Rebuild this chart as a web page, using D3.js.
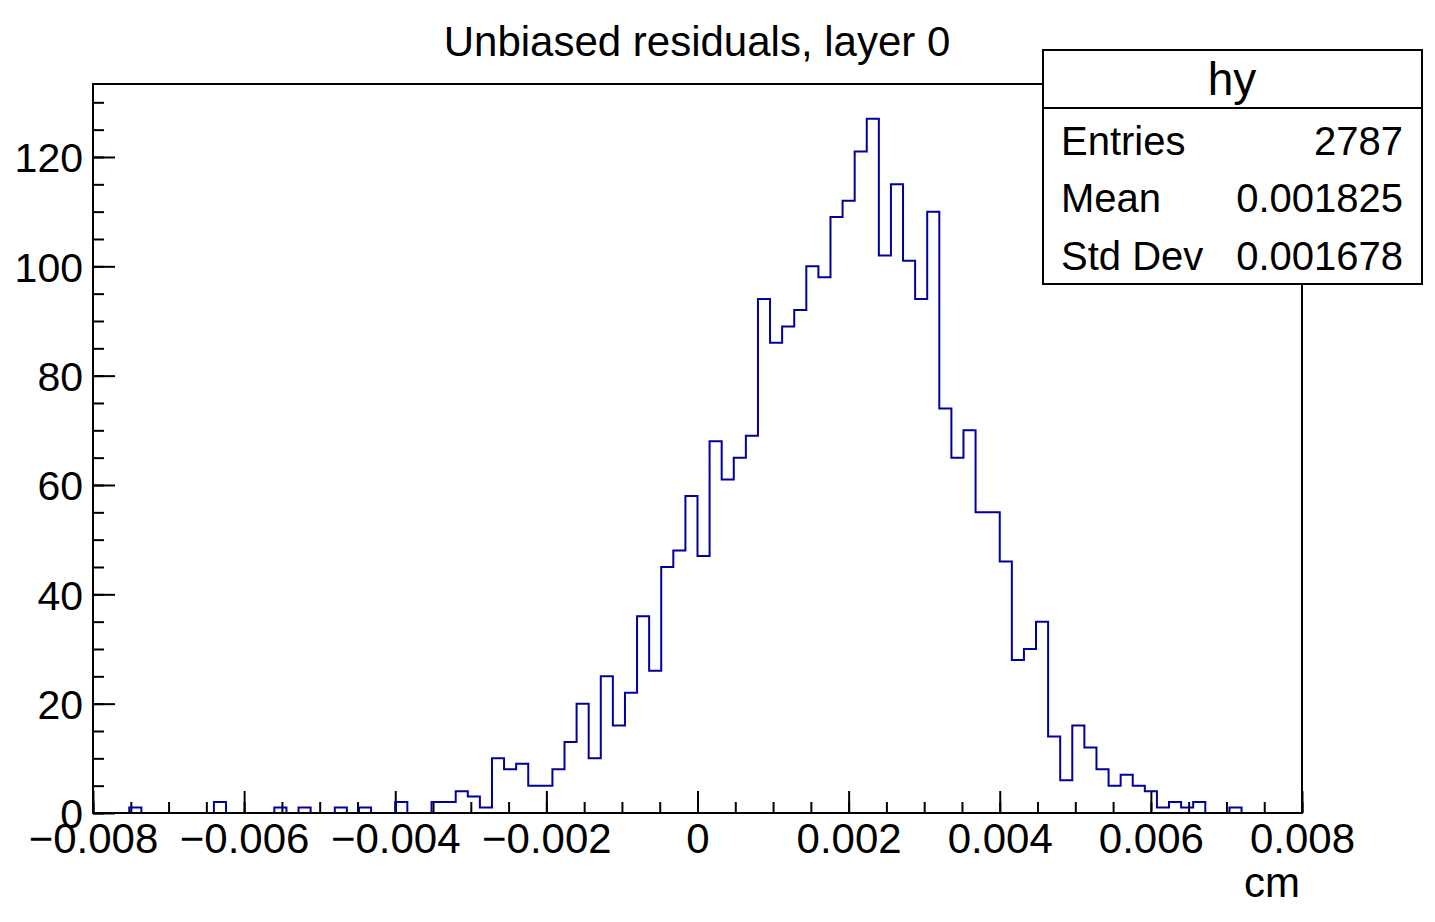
<!DOCTYPE html>
<meta charset="utf-8">
<script src="https://d3js.org/d3.v7.min.js"></script>
<style>
  body { margin: 0; background: #fff; }
  text { font-family: "Liberation Sans", Arial, Helvetica, sans-serif; fill: #000; }
</style>
<div id="my_dataviz"></div>
<script>
// histogram definition (100 bins from -0.008 to 0.008 cm)
var nBins = 100, xMin = -0.008, xMax = 0.008;
var counts = [
  0, 0, 0, 1, 0, 0, 0, 0, 0, 0,
  2, 0, 0, 0, 0, 1, 0, 1, 0, 0,
  1, 0, 1, 0, 0, 2, 0, 0, 2, 2,
  4, 3, 1, 10, 8, 9, 5, 5, 8, 13,
  20, 10, 25, 16, 22, 36, 26, 45, 48, 58,
  47, 68, 61, 65, 69, 94, 86, 89, 92, 100,
  98, 109, 112, 121, 127, 102, 115, 101, 94, 110,
  74, 65, 70, 55, 55, 46, 28, 30, 35, 14,
  6, 16, 12, 8, 5, 7, 5, 4, 1, 2,
  1, 2, 0, 0, 1, 0, 0, 0, 0, 0
];
var xMajorTicks = [-0.008, -0.006, -0.004, -0.002, 0, 0.002, 0.004, 0.006, 0.008];
var yMajorTicks = [0, 20, 40, 60, 80, 100, 120];
var statLabels = ["Entries", "Mean", "Std Dev"];
var statValues = ["2787", "0.001825", "0.001678"];

var W = 1435, H = 922;
var margin = {top: 84, right: 133, bottom: 109, left: 93},
    width = W - margin.left - margin.right,
    height = H - margin.top - margin.bottom;

var svg = d3.select("#my_dataviz").append("svg")
    .attr("width", W).attr("height", H);
var g = svg.append("g")
    .attr("transform", "translate(" + margin.left + "," + margin.top + ")");

var x = d3.scaleLinear().domain([xMin, xMax]).range([0, width]);
var y = d3.scaleLinear().domain([0, 127 * 1.05]).range([height, 0]);

// minor ticks
var xMinor = d3.range(-16, 17).map(function(i) { return i * 0.0005; });
var yMinor = d3.range(0, 27).map(function(i) { return i * 5; });

var fmtX = function(d) { return Math.abs(d) < 1e-12 ? "0" : d3.format(".3f")(d); };

g.append("g")
    .attr("transform", "translate(0," + height + ")")
    .call(d3.axisBottom(x).tickValues(xMinor).tickSize(-11).tickFormat(""))
    .call(function(a) { a.select(".domain").remove(); });
var xAxis = g.append("g")
    .attr("transform", "translate(0," + height + ")")
    .call(d3.axisBottom(x).tickValues(xMajorTicks).tickSize(-22).tickPadding(10).tickFormat(fmtX));
xAxis.select(".domain").remove();
xAxis.selectAll("text").style("font-size", "42px");

g.append("g")
    .call(d3.axisLeft(y).tickValues(yMinor).tickSize(-11).tickFormat(""))
    .call(function(a) { a.select(".domain").remove(); });
var yAxis = g.append("g")
    .call(d3.axisLeft(y).tickValues(yMajorTicks).tickSize(-22).tickPadding(10));
yAxis.select(".domain").remove();
yAxis.selectAll("text").style("font-size", "41px").attr("dy", "0.36em");

svg.selectAll(".tick line").attr("stroke", "#000").attr("stroke-width", 2);

// histogram outline
var pts = [[x(xMin), y(0)]];
counts.forEach(function(c, i) {
  var x0 = x(xMin + (xMax - xMin) * i / nBins),
      x1 = x(xMin + (xMax - xMin) * (i + 1) / nBins);
  pts.push([x0, y(c)], [x1, y(c)]);
});
pts.push([x(xMax), y(0)]);
g.append("path")
    .attr("d", d3.line()(pts))
    .attr("fill", "none")
    .attr("stroke", "#00009c")
    .attr("stroke-width", 2);

// frame
g.append("rect")
    .attr("x", 0).attr("y", 0)
    .attr("width", width).attr("height", height)
    .attr("fill", "none").attr("stroke", "#000").attr("stroke-width", 2);

// title
svg.append("text")
    .attr("x", 697).attr("y", 56)
    .attr("text-anchor", "middle")
    .style("font-size", "42px")
    .text("Unbiased residuals, layer 0");

// axis title
svg.append("text")
    .attr("x", 1300).attr("y", 897)
    .attr("text-anchor", "end")
    .style("font-size", "42px")
    .text("cm");

// stats box
var box = svg.append("g");
box.append("rect")
    .attr("x", 1043).attr("y", 50).attr("width", 379).attr("height", 234)
    .attr("fill", "#fff").attr("stroke", "#000").attr("stroke-width", 2);
box.append("line")
    .attr("x1", 1043).attr("x2", 1422).attr("y1", 108).attr("y2", 108)
    .attr("stroke", "#000").attr("stroke-width", 2);
box.append("text")
    .attr("x", 1232).attr("y", 95)
    .attr("text-anchor", "middle")
    .style("font-size", "46px")
    .text("hy");
var rowY = [155, 212, 270];
box.selectAll(".slabel").data(statLabels).enter().append("text")
    .attr("x", 1061).attr("y", function(d, i) { return rowY[i]; })
    .style("font-size", "40px")
    .text(function(d) { return d; });
box.selectAll(".svalue").data(statValues).enter().append("text")
    .attr("x", 1403).attr("y", function(d, i) { return rowY[i]; })
    .attr("text-anchor", "end")
    .style("font-size", "40px")
    .text(function(d) { return d; });
</script>
